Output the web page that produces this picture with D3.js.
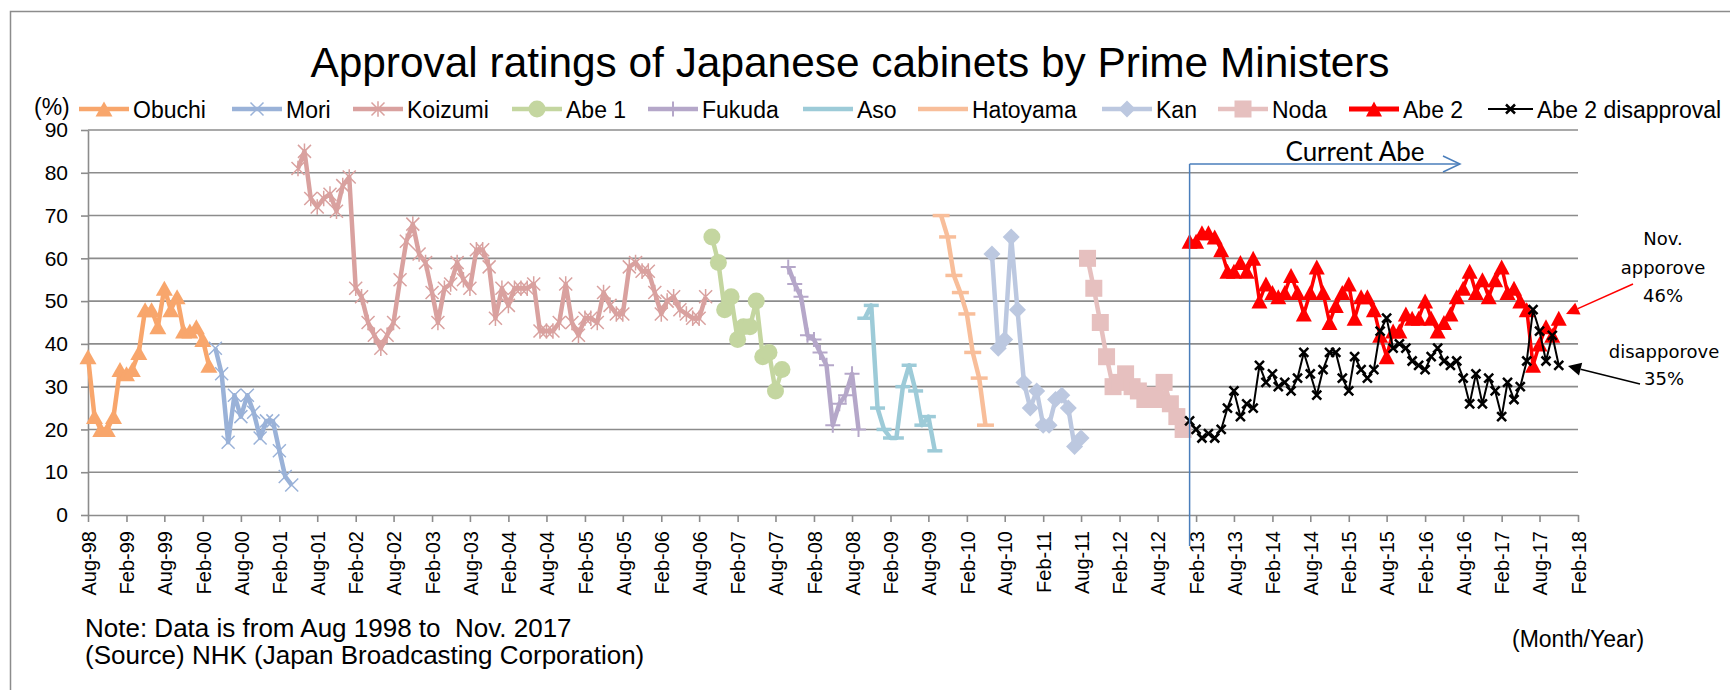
<!DOCTYPE html>
<html>
<head>
<meta charset="utf-8">
<script src="https://cdn.jsdelivr.net/npm/d3@7"></script>
<style>
  body { margin: 0; background: #fff; }
  svg { display: block; font-family: "Liberation Sans", Arial, sans-serif; }
</style>
</head>
<body>
<svg id="chart" width="1730" height="690"></svg>
<script>
// ---------------- DATA (monthly NHK approval ratings, %) ----------------
const obuchiStart = "1998-08";
const obuchi = [37, 23, 20, 20, 23, 34, 33, 34, 38, 48, 48, 44, 53, 48, 51, 43, 43, 44, 41, 35];
const moriStart = "2000-04";
const mori = [39, 33, 17, 28, 23, 28, 24, 18, 22, 22, 15, 9, 7];
const koizumiStart = "2001-05";
const koizumi = [81, 85, 74, 72, 74, 75, 71, 77, 79, 53, 51, 45, 42, 39, 42, 45, 55, 64, 68, 61,
                 59, 52, 45, 53, 54, 59, 55, 53, 62, 62, 58, 46, 53, 49, 53, 53, 53, 54, 43, 43,
                 43, 45, 54, 45, 42, 46, 46, 45, 52, 49, 47, 47, 58, 59, 57, 57, 52, 47, 50, 51,
                 48, 47, 46, 46, 51];
const abe1Start = "2006-10";
const abe1 = [65, 59, 48, 51, 41, 44, 44, 50, 37, 38, 29, 34];
const fukudaStart = "2007-10";
const fukuda = [58, 54, 51, 42, 41, 38, 35, 21, 26, 28, 33, 20];
const asoStart = "2008-10";
const aso = [46, 49, 25, 20, 18, 18, 30, 35, 29, 21, 23, 15];
const hatoyamaStart = "2009-10";
const hatoyama = [70, 65, 56, 52, 47, 38, 32, 21];
const kanStart = "2010-06";
const kan = [61, 39, 41, 65, 48, 31, 25, 29, 21, 21, 27, 28, 25, 16, 18];
const nodaStart = "2011-09";
const noda = [60, 53, 45, 37, 30, 31, 33, 30, 29, 27, 28, 27, 31, 26, 23, 20];
const abe2Start = "2013-01";
const abe2 = [64, 64, 66, 66, 65, 62, 57, 57, 59, 57, 60, 50, 54, 52, 51, 52, 56, 52, 47, 52,
              58, 52, 45, 49, 52, 54, 46, 51, 51, 48, 42, 37, 43, 43, 47, 46, 46, 50, 46, 43,
              45, 47, 51, 53, 57, 52, 55, 51, 55, 58, 52, 53, 50, 48, 35, 40, 44, 42, 46];
const abe2Dis = [22, 20, 18, 19, 18, 20, 25, 29, 23, 26, 25, 35, 31, 33, 30, 31, 29, 32, 38, 33,
                 28, 34, 38, 38, 32, 29, 37, 34, 32, 34, 43, 46, 39, 40, 39, 36, 35, 34, 37, 39,
                 36, 35, 36, 32, 26, 33, 26, 32, 29, 23, 31, 27, 30, 36, 48, 43, 36, 42, 35];

const yTicks = [0, 10, 20, 30, 40, 50, 60, 70, 80, 90];
const xStart = "1998-08", xEnd = "2018-02";   // axis range, ticks every 6 months
const seriesNames = ["Obuchi", "Mori", "Koizumi", "Abe 1", "Fukuda", "Aso", "Hatoyama", "Kan", "Noda", "Abe 2", "Abe 2 disapproval"];

// ---------------- SETUP ----------------
const parseMonth = d3.timeParse("%Y-%m");
const svg = d3.select("#chart");
const plot = { left: 88, right: 1578, top: 130, bottom: 515 };

const x = d3.scaleTime().domain([parseMonth(xStart), parseMonth(xEnd)]).range([plot.left, plot.right]);
const y = d3.scaleLinear().domain([0, 90]).range([plot.bottom, plot.top]);

const gridColor = "#8c8c8c";

// outer chart-area border
svg.append("rect").attr("x", 10.5).attr("y", 11.5).attr("width", 1900).attr("height", 1000)
   .attr("fill", "none").attr("stroke", "#8c8c8c").attr("stroke-width", 1.5);

// title
svg.append("text").attr("x", 850).attr("y", 77).attr("text-anchor", "middle")
   .attr("font-size", 42.4).text("Approval ratings of Japanese cabinets by Prime Ministers");

// gridlines
svg.append("g").selectAll("line").data(yTicks.filter(v => v > 0)).join("line")
   .attr("x1", plot.left).attr("x2", plot.right)
   .attr("y1", d => y(d)).attr("y2", d => y(d))
   .attr("stroke", gridColor).attr("stroke-width", 1.6);

// y axis
const yAxis = svg.append("g").attr("transform", `translate(${plot.left},0)`)
   .call(d3.axisLeft(y).tickValues(yTicks).tickSize(7).tickSizeOuter(0).tickPadding(13));
yAxis.select(".domain").attr("stroke", gridColor).attr("stroke-width", 1.6);
yAxis.selectAll(".tick line").attr("stroke", gridColor).attr("stroke-width", 1.6);
yAxis.selectAll(".tick text").attr("font-size", 21).attr("font-family", "Liberation Sans, Arial, sans-serif").attr("fill", "#000");

// x axis
const xTickDates = d3.range(0, 40).map(i => d3.timeMonth.offset(parseMonth(xStart), 6 * i));
const fmt = d3.timeFormat("%b-%y");
const xAxis = svg.append("g").attr("transform", `translate(0,${plot.bottom})`)
   .call(d3.axisBottom(x).tickValues(xTickDates).tickSize(7).tickSizeOuter(0).tickFormat(fmt));
xAxis.select(".domain").attr("stroke", gridColor).attr("stroke-width", 1.6);
xAxis.selectAll(".tick line").attr("stroke", gridColor).attr("stroke-width", 1.6);
xAxis.selectAll(".tick text")
   .attr("font-size", 20).attr("font-family", "Liberation Sans, Arial, sans-serif").attr("fill", "#000")
   .attr("text-anchor", "end").attr("transform", "rotate(-90)")
   .attr("x", -16).attr("y", 0).attr("dy", "0.36em");

// ---------------- MARKERS ----------------
function drawMarker(g, type, cx, cy, color, s) {
  switch (type) {
    case "triangle":
      g.append("path").attr("d", `M${cx},${cy - s.h / 2}L${cx + s.w / 2},${cy + s.h / 2}L${cx - s.w / 2},${cy + s.h / 2}Z`)
       .attr("fill", color); break;
    case "x":
      g.append("path").attr("d", `M${cx - s.r},${cy - s.r}L${cx + s.r},${cy + s.r}M${cx - s.r},${cy + s.r}L${cx + s.r},${cy - s.r}`)
       .attr("stroke", color).attr("stroke-width", s.sw).attr("fill", "none"); break;
    case "star":
      g.append("path").attr("d", `M${cx - s.r},${cy - s.r}L${cx + s.r},${cy + s.r}M${cx - s.r},${cy + s.r}L${cx + s.r},${cy - s.r}M${cx},${cy - s.r * 1.2}L${cx},${cy + s.r * 1.2}`)
       .attr("stroke", color).attr("stroke-width", s.sw).attr("fill", "none"); break;
    case "circle":
      g.append("circle").attr("cx", cx).attr("cy", cy).attr("r", s.r).attr("fill", color); break;
    case "plus":
      g.append("path").attr("d", `M${cx - s.r},${cy}L${cx + s.r},${cy}M${cx},${cy - s.r}L${cx},${cy + s.r}`)
       .attr("stroke", color).attr("stroke-width", s.sw).attr("fill", "none"); break;
    case "dash":
      g.append("path").attr("d", `M${cx - s.r},${cy}L${cx + s.r},${cy}`)
       .attr("stroke", color).attr("stroke-width", s.sw).attr("fill", "none"); break;
    case "diamond":
      g.append("path").attr("d", `M${cx},${cy - s.r}L${cx + s.r},${cy}L${cx},${cy + s.r}L${cx - s.r},${cy}Z`)
       .attr("fill", color); break;
    case "square":
      g.append("rect").attr("x", cx - s.r).attr("y", cy - s.r).attr("width", 2 * s.r).attr("height", 2 * s.r)
       .attr("fill", color); break;
  }
}

const series = [
  { name: seriesNames[0], start: obuchiStart, values: obuchi, color: "#F8A66C", lw: 4.5, marker: "triangle", ms: { w: 17, h: 15 } },
  { name: seriesNames[1], start: moriStart, values: mori, color: "#9AB2D8", lw: 4.5, marker: "x", ms: { r: 6.5, sw: 1.5 } },
  { name: seriesNames[2], start: koizumiStart, values: koizumi, color: "#D9A19F", lw: 4.5, marker: "star", ms: { r: 6.5, sw: 1.5 } },
  { name: seriesNames[3], start: abe1Start, values: abe1, color: "#C4D6A0", lw: 4.5, marker: "circle", ms: { r: 8.5 } },
  { name: seriesNames[4], start: fukudaStart, values: fukuda, color: "#B5A7C9", lw: 4.5, marker: "plus", ms: { r: 7.5, sw: 2 } },
  { name: seriesNames[5], start: asoStart, values: aso, color: "#9DCBD8", lw: 4.5, marker: "dash", ms: { r: 7.5, sw: 3.5 } },
  { name: seriesNames[6], start: hatoyamaStart, values: hatoyama, color: "#F8BE9A", lw: 4.5, marker: "dash", ms: { r: 8.5, sw: 3.5 } },
  { name: seriesNames[7], start: kanStart, values: kan, color: "#BCC8E0", lw: 4.5, marker: "diamond", ms: { r: 8.5 } },
  { name: seriesNames[8], start: nodaStart, values: noda, color: "#E6C0BF", lw: 4.5, marker: "square", ms: { r: 8.5 } },
  { name: seriesNames[9], start: abe2Start, values: abe2, color: "#FF0000", lw: 3.5, marker: "triangle", ms: { w: 16, h: 15 } },
  { name: seriesNames[10], start: abe2Start, values: abe2Dis, color: "#000000", lw: 2, marker: "x", ms: { r: 4.5, sw: 2.5 } }
];

const line = d3.line().x(d => x(d.date)).y(d => y(d.v));
series.forEach(s => {
  const pts = s.values.map((v, i) => ({ date: d3.timeMonth.offset(parseMonth(s.start), i), v }));
  const g = svg.append("g");
  g.append("path").datum(pts).attr("d", line).attr("fill", "none")
   .attr("stroke", s.color).attr("stroke-width", s.lw).attr("stroke-linejoin", "round");
  pts.forEach(p => drawMarker(g, s.marker, x(p.date), y(p.v), s.color, s.ms));
});

// ---------------- LEGEND ----------------
const legendX = [79, 232, 353, 512, 648, 803, 918, 1102, 1218, 1349, 1488];
const legendY = 109;
svg.append("text").attr("x", 34).attr("y", 114.5).attr("font-size", 23).text("(%)");
series.forEach((s, i) => {
  const g = svg.append("g");
  const len = i === 10 ? 45 : 50;
  const x0 = legendX[i];
  g.append("line").attr("x1", x0).attr("x2", x0 + len).attr("y1", legendY).attr("y2", legendY)
   .attr("stroke", s.color).attr("stroke-width", i === 10 ? 2 : (i === 9 ? 5 : 4.5));
  if (s.marker !== "dash") drawMarker(g, s.marker, x0 + len / 2, legendY, s.color, s.ms);
  g.append("text").attr("x", x0 + len + 4).attr("y", 117.5).attr("font-size", 23).text(s.name);
});

// ---------------- ANNOTATIONS ----------------
const blue = "#4A7EBB";
const abeX = x(parseMonth(abe2Start));
svg.append("line").attr("x1", abeX).attr("x2", abeX).attr("y1", 164).attr("y2", 546)
   .attr("stroke", blue).attr("stroke-width", 1.5);
svg.append("line").attr("x1", abeX).attr("x2", 1460).attr("y1", 164).attr("y2", 164)
   .attr("stroke", blue).attr("stroke-width", 1.5);
svg.append("path").attr("d", "M1443,156L1460,164L1443,172").attr("fill", "none")
   .attr("stroke", blue).attr("stroke-width", 1.5);
svg.append("text").attr("x", 1355).attr("y", 161).attr("text-anchor", "middle")
   .attr("font-family", "Lato, 'Open Sans', sans-serif").attr("font-size", 26).text("Current Abe");

const annFont = "'DejaVu Sans', Verdana, sans-serif";
function annText(tx, ty, t) {
  svg.append("text").attr("x", tx).attr("y", ty).attr("text-anchor", "middle")
     .attr("font-family", annFont).attr("font-size", 18).text(t);
}
annText(1663, 245, "Nov.");
annText(1663, 274, "apporove");
annText(1663, 302, "46%");
annText(1664, 358, "disapporove");
annText(1664, 385, "35%");

function arrow(x1, y1, x2, y2, color) {
  const ang = Math.atan2(y2 - y1, x2 - x1);
  const L = 13, Wd = 6.5;
  const bx = x2 - L * Math.cos(ang), by = y2 - L * Math.sin(ang);
  svg.append("line").attr("x1", x1).attr("y1", y1).attr("x2", bx).attr("y2", by)
     .attr("stroke", color).attr("stroke-width", 1.5);
  const px = -Math.sin(ang) * Wd, py = Math.cos(ang) * Wd;
  svg.append("path").attr("d", `M${x2},${y2}L${bx + px},${by + py}L${bx - px},${by - py}Z`).attr("fill", color);
}
arrow(1633, 284, 1566, 314, "#FF0000");
arrow(1640, 384, 1568, 366, "#000000");

// ---------------- NOTES ----------------
svg.append("text").attr("x", 85).attr("y", 637).attr("font-size", 26).style("white-space", "pre")
   .text("Note: Data is from Aug 1998 to  Nov. 2017");
svg.append("text").attr("x", 85).attr("y", 664).attr("font-size", 26).text("(Source) NHK (Japan Broadcasting Corporation)");
svg.append("text").attr("x", 1512).attr("y", 647).attr("font-size", 23).text("(Month/Year)");
</script>
</body>
</html>
